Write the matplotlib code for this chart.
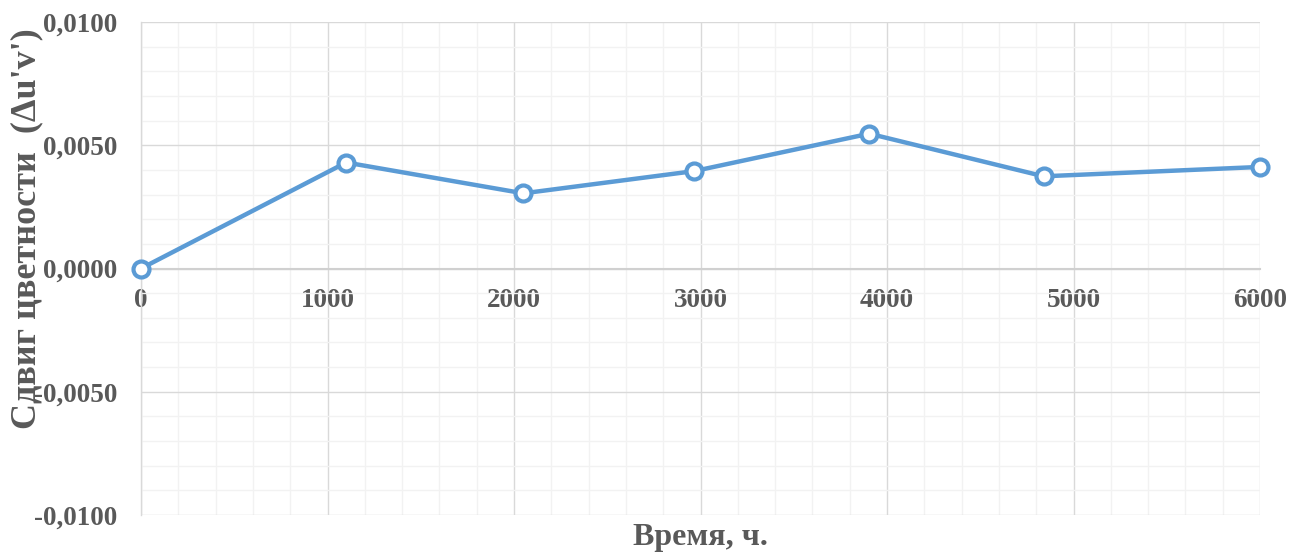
import numpy as np
import matplotlib
matplotlib.use('Agg')
import matplotlib.pyplot as plt
from matplotlib.ticker import MultipleLocator, FuncFormatter

# data
hours = [0, 1100, 2050, 2965, 3905, 4840, 6000]
shift = [0.0, 0.0043, 0.00305, 0.00395, 0.00547, 0.00374, 0.00412]

x_ticks = [0, 1000, 2000, 3000, 4000, 5000, 6000]
y_ticks = [-0.01, -0.005, 0.0, 0.005, 0.01]

text_col = '#595959'
line_col = '#5b9bd5'

plt.rcParams['font.family'] = ['Liberation Serif', 'DejaVu Serif']
plt.rcParams['font.weight'] = 'bold'

fig = plt.figure(figsize=(12.92, 5.52), dpi=100)
ax = fig.add_axes([141/1292, 1 - 515/552, (1260 - 141)/1292, (515 - 22)/552])

ax.set_xlim(0, 6000)
ax.set_ylim(-0.01, 0.01)
ax.set_xticks(x_ticks)
ax.set_yticks(y_ticks)
ax.xaxis.set_minor_locator(MultipleLocator(200))
ax.yaxis.set_minor_locator(MultipleLocator(0.001))
ax.yaxis.set_major_formatter(FuncFormatter(lambda v, p: ('%.4f' % v).replace('.', ',')))

ax.grid(which='major', color='#d9d9d9', lw=1.0, zorder=0)
ax.grid(which='minor', color='#f2f2f2', lw=1.0, zorder=0)

for s in ['top', 'right']:
    ax.spines[s].set_visible(False)
ax.spines['bottom'].set_position(('data', 0))
ax.spines['bottom'].set_color('#d0d0d0')
ax.spines['bottom'].set_linewidth(1.5)
ax.spines['left'].set_color('#d9d9d9')
ax.spines['left'].set_linewidth(1.0)

ax.tick_params(which='both', length=0)
ax.tick_params(axis='x', pad=14, labelsize=19.5, labelcolor=text_col)
ax.tick_params(axis='y', pad=17, labelsize=19.5, labelcolor=text_col)
for lab in ax.get_xticklabels() + ax.get_yticklabels():
    lab.set_fontweight('bold')

ax.plot(hours, shift, color=line_col, lw=3.2, marker='o', ms=11.5, mew=3,
        mfc='white', mec=line_col, zorder=5, clip_on=False)

fig.text(700/1292, 1 - 537/552, 'Время, ч.', ha='center', va='center',
         fontsize=23, fontweight='bold', color=text_col)
fig.text(27/1292, 1 - 229/552, "Сдвиг цветности  (Δu'v')", ha='center', va='center',
         rotation=90, fontsize=26, fontweight='bold', color=text_col)

fig.savefig('out.png', dpi=100)
